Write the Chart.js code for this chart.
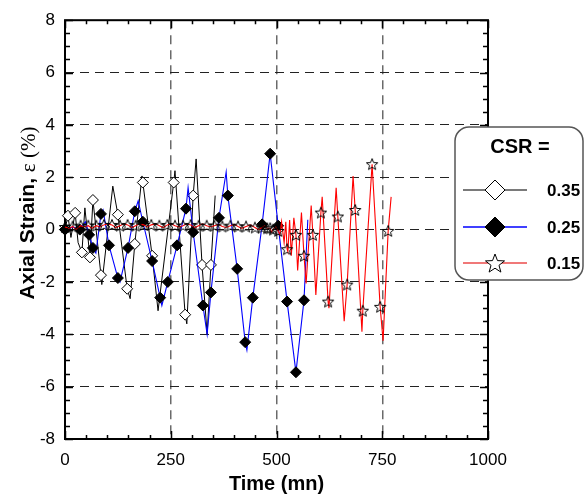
<!DOCTYPE html>
<html>
<head>
<meta charset="utf-8">
<script src="https://cdn.jsdelivr.net/npm/chart.js@4/dist/chart.umd.min.js"></script>
<style>
  html, body { margin: 0; padding: 0; background: #fff; }
</style>
</head>
<body>
<canvas id="strainChart" width="585" height="498"></canvas>
<script>
// Axis ranges / ticks
const timeTicks = [0, 250, 500, 750, 1000];
const strainTicks = [-8, -6, -4, -2, 0, 2, 4, 6, 8];
const csrLabels = ['0.35', '0.25', '0.15'];

// CSR = 0.35 : open diamonds, black line  [time, strain]
const csr35Marks = [[0,0],[7,0.53],[24,0.64],[40,-0.87],[59,-1.06],[66,1.13],[85,-1.74],[125,0.57],
  [147,-2.26],[165,-0.55],[184,1.8],[206,-1.0],[257,1.8],[284,-3.25],[303,1.3],[324,-1.35],[345,-1.35]];
const csr35Turns = [[14,-0.3],[31,-0.5],[47,0.83],[87,-2.1],[113,1.66],[154,-2.64],[182,2.05],
  [220,-3.1],[260,2.25],[288,-3.6],[310,2.7],[336,-4.0],[355,1.3]];

// CSR = 0.25 : filled diamonds, blue line
const csr25Marks = [[0,0],[35,0],[57,-0.2],[66,-0.7],[85,0.6],[104,-0.6],[125,-1.85],[149,-0.7],
  [165,0.7],[184,0.3],[206,-1.2],[225,-2.6],[243,-2.0],[265,-0.6],[286,0.8],[303,-0.1],[326,-2.9],
  [345,-2.4],[364,0.45],[385,1.3],[407,-1.5],[426,-4.3],[444,-2.6],[466,0.2],[485,2.9],[504,0.15],
  [525,-2.75],[546,-5.45],[565,-2.7]];
const csr25Turns = [[20,0.1],[48,0.3],[73,-0.9],[90,0.75],[130,-2.0],[173,1.1],[229,-2.9],[291,1.6],
  [336,-4.0],[381,2.2],[430,-4.6],[556,-4.0],[574,0.38]];

// CSR = 0.15 : stars, red line
const csr15Marks = [[0,0.1],[18,0.12],[37,0.15],[55,0.15],[74,0.15],[92,0.18],[111,0.18],[130,0.15],
  [148,0.18],[167,0.15],[186,0.18],[204,0.18],[223,0.15],[242,0.18],[260,0.15],[279,0.15],[297,0.18],
  [316,0.15],[335,0.15],[353,0.15],[372,0.12],[391,0.15],[409,0.12],[428,0.12],[449,0.08],[466,0.08],
  [478,0.05],[485,0.05],[492,0.0],[504,-0.05],[525,-0.75],[546,-0.2],[565,-1.0],[586,-0.2],[605,0.65],
  [622,-2.75],[645,0.5],[667,-2.1],[686,0.75],[704,-3.1],[726,2.5],[745,-2.95],[764,-0.05]];
const csr15Turns = [[10,0.05],[26,0.0],[45,0.1],[64,0.05],[83,0.1],[101,0.22],[120,0.08],[139,0.22],
  [158,0.08],[176,0.22],[195,0.1],[214,0.22],[232,0.08],[251,0.22],[270,0.1],[288,0.22],[307,0.08],
  [325,0.22],[344,0.1],[362,0.2],[381,0.08],[400,0.2],[418,0.05],[438,0.18],[457,0.0],[472,0.15],
  [488,-0.1],[498,0.1],[508,-0.2],[512,0.3],[518,-0.5],[522,0.3],[527,-0.85],[531,0.37],[535,-1.0],
  [541,0.45],[550,-1.56],[559,0.65],[570,-2.06],[582,0.92],[593,-2.5],[608,1.25],[624,-3.0],[641,1.6],
  [660,-3.5],[681,2.05],[702,-3.9],[752,-4.25],[771,1.25]];

function toPts(list) {
  return list.map(([x, y]) => ({ x, y }));
}
function mergeLine(turns, marks) {
  return toPts(turns.concat(marks)).sort((a, b) => a.x - b.x);
}

function starPath(ctx, cx, cy, R, r) {
  ctx.beginPath();
  for (let i = 0; i < 10; i++) {
    const a = -Math.PI / 2 + i * Math.PI / 5;
    const d = i % 2 === 0 ? R : r;
    ctx.lineTo(cx + d * Math.cos(a), cy + d * Math.sin(a));
  }
  ctx.closePath();
}
function diamondPath(ctx, cx, cy, r) {
  ctx.beginPath();
  ctx.moveTo(cx - r, cy);
  ctx.lineTo(cx, cy - r);
  ctx.lineTo(cx + r, cy);
  ctx.lineTo(cx, cy + r);
  ctx.closePath();
}

// star marker image for the plot
const starImg = document.createElement('canvas');
starImg.width = 14;
starImg.height = 14;
(function () {
  const c = starImg.getContext('2d');
  c.strokeStyle = '#000';
  c.lineWidth = 1;
  starPath(c, 7, 7.5, 6, 2.6);
  c.stroke();
})();

const sans = 'Liberation Sans, Arial, sans-serif';

// inward ticks, frame, y title, legend box
const decorations = {
  id: 'decorations',
  beforeDatasetsDraw(chart) {
    const { ctx, chartArea: a, scales: { x, y } } = chart;
    ctx.save();
    ctx.strokeStyle = '#000';
    ctx.lineWidth = 1.5;
    for (let v = 0; v <= 1000; v += 50) {
      const px = Math.round(x.getPixelForValue(v)) + 0.5;
      const len = v % 250 === 0 ? 8 : 4;
      ctx.beginPath();
      ctx.moveTo(px, a.bottom); ctx.lineTo(px, a.bottom - len);
      ctx.moveTo(px, a.top); ctx.lineTo(px, a.top + len);
      ctx.stroke();
    }
    for (let v = -8; v <= 8; v += 0.5) {
      const py = Math.round(y.getPixelForValue(v)) + 0.5;
      const len = v % 2 === 0 ? 8 : 5;
      ctx.beginPath();
      ctx.moveTo(a.left, py); ctx.lineTo(a.left + len, py);
      ctx.moveTo(a.right, py); ctx.lineTo(a.right - len, py);
      ctx.stroke();
    }
    ctx.lineWidth = 2;
    ctx.strokeRect(a.left, a.top, a.right - a.left, a.bottom - a.top);
    ctx.restore();
  },
  afterDraw(chart) {
    const { ctx } = chart;
    ctx.save();

    // y axis title with mixed fonts
    ctx.translate(28, 213);
    ctx.rotate(-Math.PI / 2);
    ctx.fillStyle = '#000';
    ctx.textBaseline = 'middle';
    const partA = 'Axial Strain, ';
    const partB = '\u03b5 (%)';
    const fontA = 'bold 21px ' + sans;
    const fontB = '21px Liberation Serif, Times New Roman, serif';
    ctx.font = fontA;
    const wA = ctx.measureText(partA).width;
    ctx.font = fontB;
    const wB = ctx.measureText(partB).width;
    const x0 = -(wA + wB) / 2;
    ctx.font = fontA;
    ctx.textAlign = 'left';
    ctx.fillText(partA, x0, 0);
    ctx.font = fontB;
    ctx.fillText(partB, x0 + wA, 1);
    ctx.restore();

    // legend box
    ctx.save();
    ctx.beginPath();
    ctx.roundRect(455, 127, 128, 153, 14);
    ctx.fillStyle = '#fff';
    ctx.fill();
    ctx.strokeStyle = '#555';
    ctx.lineWidth = 1.5;
    ctx.stroke();

    ctx.fillStyle = '#000';
    ctx.font = 'bold 20px ' + sans;
    ctx.textAlign = 'center';
    ctx.textBaseline = 'middle';
    ctx.fillText('CSR =', 520, 147);

    const rows = [
      { y: 190, color: '#7a7a7a', kind: 'open' },
      { y: 227, color: '#0000ff', kind: 'filled' },
      { y: 263, color: '#f07878', kind: 'star' }
    ];
    rows.forEach((row, i) => {
      ctx.strokeStyle = row.color;
      ctx.lineWidth = row.kind === 'filled' ? 1.5 : 2;
      ctx.beginPath();
      ctx.moveTo(463, row.y);
      ctx.lineTo(527, row.y);
      ctx.stroke();
      ctx.lineWidth = 1;
      ctx.strokeStyle = '#000';
      if (row.kind === 'star') {
        starPath(ctx, 495, row.y + 1, 10, 4.2);
        ctx.fillStyle = '#fff';
        ctx.fill();
        ctx.stroke();
      } else {
        diamondPath(ctx, 495, row.y, 10);
        ctx.fillStyle = row.kind === 'open' ? '#fff' : '#000';
        ctx.fill();
        ctx.stroke();
      }
      ctx.fillStyle = '#000';
      ctx.font = 'bold 17px ' + sans;
      ctx.textAlign = 'left';
      ctx.fillText(csrLabels[i], 547, row.y + 1);
    });
    ctx.restore();
  }
};

const hideEdge = (lo, hi, color) => c => (c.tick.value === lo || c.tick.value === hi) ? 'rgba(0,0,0,0)' : color;

new Chart(document.getElementById('strainChart'), {
  type: 'scatter',
  data: {
    datasets: [
      { data: mergeLine(csr35Turns, csr35Marks), showLine: true, borderColor: '#000', borderWidth: 1,
        pointRadius: 0, order: 6 },
      { data: toPts(csr35Marks), pointStyle: 'rectRot', pointRadius: 5.5, backgroundColor: '#fff',
        borderColor: '#000', borderWidth: 1, order: 5 },
      { data: mergeLine(csr25Turns, csr25Marks), showLine: true, borderColor: '#0000ff', borderWidth: 1.1,
        pointRadius: 0, order: 4 },
      { data: toPts(csr25Marks), pointStyle: 'rectRot', pointRadius: 5.5, backgroundColor: '#000',
        borderColor: '#000', borderWidth: 1, order: 3 },
      { data: mergeLine(csr15Turns, csr15Marks), showLine: true, borderColor: '#ff0000', borderWidth: 1.1,
        pointRadius: 0, order: 2 },
      { data: toPts(csr15Marks), pointStyle: starImg, pointRadius: 6, order: 1 }
    ]
  },
  options: {
    responsive: false,
    animation: false,
    events: [],
    clip: false,
    layout: { padding: { left: 0, top: 15, right: 97, bottom: 0 } },
    plugins: { legend: { display: false }, tooltip: { enabled: false } },
    scales: {
      x: {
        type: 'linear', min: 0, max: 1000,
        afterBuildTicks: s => { s.ticks = timeTicks.map(v => ({ value: v })); },
        ticks: { font: { family: sans, size: 17 }, color: '#000', padding: 11, maxRotation: 0,
          callback: v => String(v) },
        grid: { color: hideEdge(0, 1000, '#6a6a6a'), lineWidth: 1.5, drawTicks: false },
        border: { display: false, dash: [9, 6] },
        title: { display: true, text: 'Time (mn)', color: '#000',
          font: { family: sans, size: 20, weight: 'bold' }, padding: { top: 0, bottom: 2 } },
        afterFit: s => { s.height = 59; }
      },
      y: {
        type: 'linear', min: -8, max: 8,
        afterBuildTicks: s => { s.ticks = strainTicks.map(v => ({ value: v })); },
        ticks: { font: { family: sans, size: 17 }, color: '#000', padding: 10,
          callback: v => String(v) },
        grid: { color: hideEdge(-8, 8, '#222'), lineWidth: 1, drawTicks: false },
        border: { display: false, dash: [9, 6] },
        afterFit: s => { s.width = 65; }
      }
    }
  },
  plugins: [decorations]
});
</script>
</body>
</html>
